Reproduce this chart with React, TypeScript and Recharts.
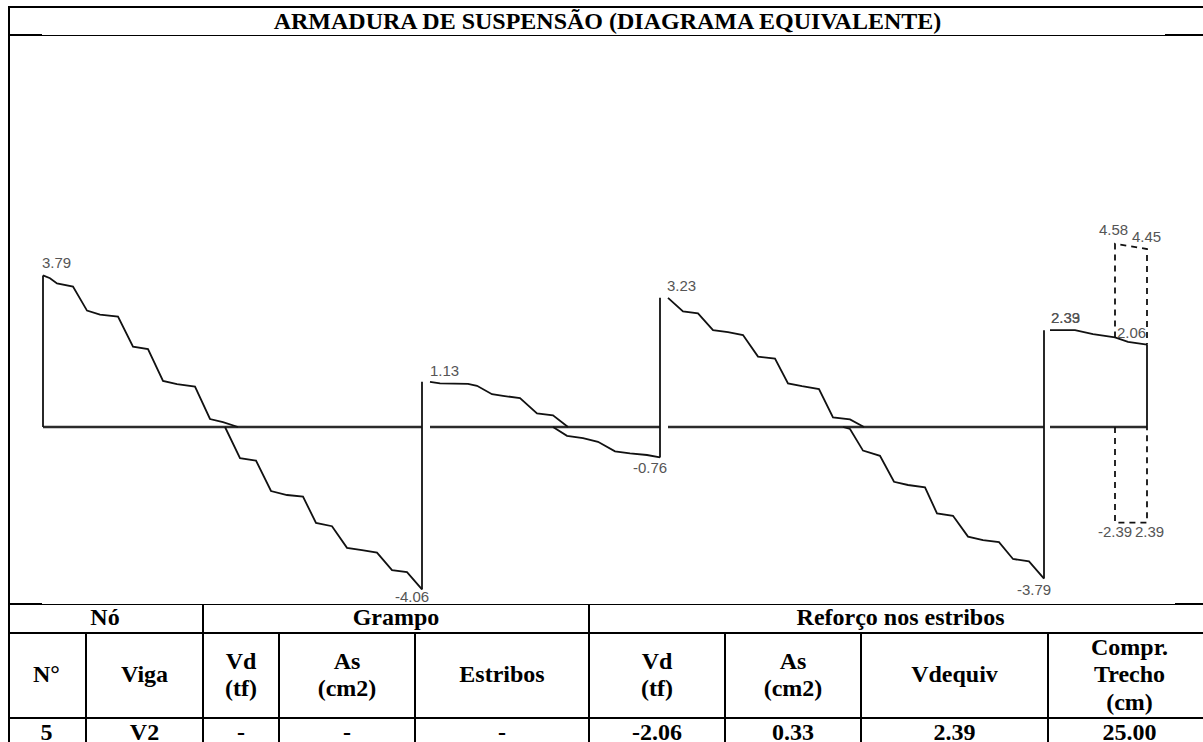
import React from 'react';
import { LineChart, Line, XAxis, YAxis, ReferenceDot } from 'recharts';

// stations along the beam and shear values (tf)
const span1PosX = [0, 7, 14, 30, 44, 57, 75, 90, 105, 120, 134, 152, 167, 180, 195];
const span1PosV = [3.79, 3.72, 3.59, 3.51, 2.91, 2.81, 2.76, 2.01, 1.95, 1.15, 1.07, 1.01, 0.2, 0.12, 0];
const span1NegX = [182, 197, 213, 228, 244, 260, 273, 289, 304, 319, 334, 349, 364, 379];
const span1NegV = [0, -0.78, -0.84, -1.6, -1.7, -1.74, -2.4, -2.48, -3.02, -3.08, -3.14, -3.58, -3.63, -4.06];
const span2PosX = [387, 397, 425, 434, 449, 460, 477, 494, 510, 525];
const span2PosV = [1.13, 1.09, 1.08, 1.03, 0.82, 0.78, 0.72, 0.34, 0.29, 0];
const span2NegX = [510, 524, 540, 555, 572, 587, 604, 617];
const span2NegV = [0, -0.22, -0.28, -0.37, -0.61, -0.66, -0.7, -0.76];
const span3PosX = [625, 640, 655, 670, 685, 700, 715, 732, 745, 759, 776, 790, 807, 821];
const span3PosV = [3.23, 2.89, 2.84, 2.42, 2.37, 2.3, 1.76, 1.71, 1.09, 1.02, 0.95, 0.24, 0.19, 0];
const span3NegX = [800, 807, 820, 837, 851, 865, 882, 894, 910, 925, 940, 956, 970, 986, 1001];
const span3NegV = [0, -0.05, -0.59, -0.72, -1.37, -1.45, -1.51, -2.16, -2.22, -2.74, -2.83, -2.88, -3.3, -3.36, -3.79];
const span4X = [1007, 1032, 1050, 1072, 1085, 1104];
const span4V = [2.42, 2.42, 2.32, 2.24, 2.13, 2.06];

const baselineX = [0, 379, 383, 387, 617, 621, 625, 1001, 1004, 1007, 1104];
const baselineV = [0, 0, null, 0, 0, null, 0, 0, null, 0, 0];

const wallX = [0, 379, 617, 1001, 1104];
const wallBottom = [0, -4.06, -0.76, -3.79, 0];
const wallTop = [3.79, 1.13, 3.23, 2.42, 2.06];

const dashTopX = [1072, 1072, 1104, 1104];
const dashTopV = [2.24, 4.58, 4.45, 2.06];
const dashBottomX = [1072, 1072, 1104, 1104];
const dashBottomV = [0, -2.39, -2.39, 0];

const title = 'ARMADURA DE SUSPENSÃO (DIAGRAMA EQUIVALENTE)';
const groupHeaders = ['Nó', 'Grampo', 'Reforço nos estribos'];
const columnHeaders = ['N°', 'Viga', 'Vd\n(tf)', 'As\n(cm2)', 'Estribos', 'Vd\n(tf)', 'As\n(cm2)', 'Vdequiv', 'Compr.\nTrecho\n(cm)'];
const rowValues = ['5', 'V2', '-', '-', '-', '-2.06', '0.33', '2.39', '25.00'];

const zip = (xs: number[], vs: (number | null)[]) => xs.map((x, i) => ({ x, v: vs[i] }));

const solidSegments = [
    zip(span1PosX, span1PosV),
    zip(span1NegX, span1NegV),
    zip(span2PosX, span2PosV),
    zip(span2NegX, span2NegV),
    zip(span3PosX, span3PosV),
    zip(span3NegX, span3NegV),
    zip(span4X, span4V),
    ...wallX.map((x, i) => zip([x, x], [wallBottom[i], wallTop[i]])),
];

const valueLabel = (x: number, v: number, text: string, dx: number, dy: number) => (
    <ReferenceDot
        key={`${text}-${x}-${v}`}
        x={x}
        y={v}
        r={0}
        ifOverflow="visible"
        shape={(p: any) => (
            <text x={p.cx + dx} y={p.cy + dy} fontFamily="Liberation Sans" fontWeight="normal" fontSize={15} fill="#555">
                {text}
            </text>
        )}
    />
);

const cell: React.CSSProperties = {
    border: '2px solid #000',
    padding: 0,
    textAlign: 'center',
    verticalAlign: 'middle',
    whiteSpace: 'pre-line',
};

const ruleStyle = (left: number, top: number, width: number, height: number): React.CSSProperties => ({
    position: 'absolute',
    left,
    top,
    width,
    height,
    background: '#000',
});

const App = () => {
    return (
        <div
            style={{
                position: 'absolute',
                left: 0,
                top: 0,
                width: 1203,
                height: 742,
                overflow: 'hidden',
                background: '#fff',
                fontFamily: 'Liberation Serif',
                fontWeight: 'bold',
                fontSize: 24,
                color: '#000',
            }}
        >
            <div style={ruleStyle(8, 6, 1195, 2)} />
            <div style={ruleStyle(8, 6, 2, 736)} />
            <div style={ruleStyle(8, 35, 1195, 1)} />
            <div style={ruleStyle(8, 34, 34, 2)} />
            <div style={ruleStyle(1165, 34, 38, 2)} />
            <div style={{ position: 'absolute', left: 8, top: 7, width: 1199, textAlign: 'center', lineHeight: '28px', whiteSpace: 'nowrap' }}>
                {title}
            </div>

            <div style={{ position: 'absolute', left: 8, top: 36 }}>
                <LineChart width={1195} height={568} margin={{ top: 0, right: 0, bottom: 0, left: 0 }}>
                    <XAxis type="number" dataKey="x" domain={[-35, 1160]} hide allowDataOverflow />
                    <YAxis type="number" dataKey="v" domain={[-4.425, 9.775]} hide allowDataOverflow />
                    <Line data={zip(baselineX, baselineV)} dataKey="v" stroke="#2b2b2b" strokeWidth={2.5} dot={false} isAnimationActive={false} />
                    {solidSegments.map((seg, i) => (
                        <Line key={i} data={seg} dataKey="v" stroke="#111" strokeWidth={1.8} dot={false} isAnimationActive={false} />
                    ))}
                    <Line data={zip(dashTopX, dashTopV)} dataKey="v" stroke="#111" strokeWidth={1.8} strokeDasharray="6 5" dot={false} isAnimationActive={false} />
                    <Line data={zip(dashBottomX, dashBottomV)} dataKey="v" stroke="#111" strokeWidth={1.8} strokeDasharray="6 5" dot={false} isAnimationActive={false} />
                    {valueLabel(0, 3.79, '3.79', -1, -7)}
                    {valueLabel(379, -4.06, '-4.06', -27, 13)}
                    {valueLabel(379, 1.13, '1.13', 8, -6)}
                    {valueLabel(617, -0.76, '-0.76', -27, 16)}
                    {valueLabel(617, 3.23, '3.23', 7, -7)}
                    {valueLabel(1001, 2.39, '2.39', 7, -8)}
                    {valueLabel(1001, 2.39, '2.33', 7, -8)}
                    {valueLabel(1104, 2.06, '2.06', -30, -7)}
                    {valueLabel(1072, 4.58, '4.58', -16, -9)}
                    {valueLabel(1104, 4.45, '4.45', -15, -7)}
                    {valueLabel(1072, -2.39, '-2.39', -17, 14)}
                    {valueLabel(1104, -2.39, '2.39', -12, 14)}
                    {valueLabel(1001, -3.79, '-3.79', -27, 16)}
                </LineChart>
            </div>

            <div style={ruleStyle(8, 604, 1195, 1)} />
            <div style={ruleStyle(8, 603, 34, 2)} />
            <div style={ruleStyle(1175, 603, 28, 2)} />
            <table
                style={{
                    position: 'absolute',
                    left: 8,
                    top: 604,
                    width: 1203,
                    tableLayout: 'fixed',
                    borderCollapse: 'collapse',
                    lineHeight: '27.5px',
                }}
            >
                <colgroup>
                    {[78, 117, 76, 136, 174, 136, 136, 187, 163].map((w, i) => (
                        <col key={i} style={{ width: w }} />
                    ))}
                </colgroup>
                <tbody>
                    <tr style={{ height: 28 }}>
                        <td colSpan={2} style={{ ...cell, borderTop: 'none', borderLeft: 'none' }}>{groupHeaders[0]}</td>
                        <td colSpan={3} style={{ ...cell, borderTop: 'none' }}>{groupHeaders[1]}</td>
                        <td colSpan={4} style={{ ...cell, borderTop: 'none', borderRight: 'none' }}>{groupHeaders[2]}</td>
                    </tr>
                    <tr style={{ height: 85 }}>
                        {columnHeaders.map((h, i) => (
                            <td key={i} style={{ ...cell, borderLeft: i === 0 ? 'none' : cell.border }}>{h}</td>
                        ))}
                    </tr>
                    <tr>
                        {rowValues.map((h, i) => (
                            <td key={i} style={{ ...cell, borderLeft: i === 0 ? 'none' : cell.border, borderBottom: 'none', lineHeight: '21px', paddingTop: 3 }}>{h}</td>
                        ))}
                    </tr>
                </tbody>
            </table>
        </div>
    );
};

export default App;
